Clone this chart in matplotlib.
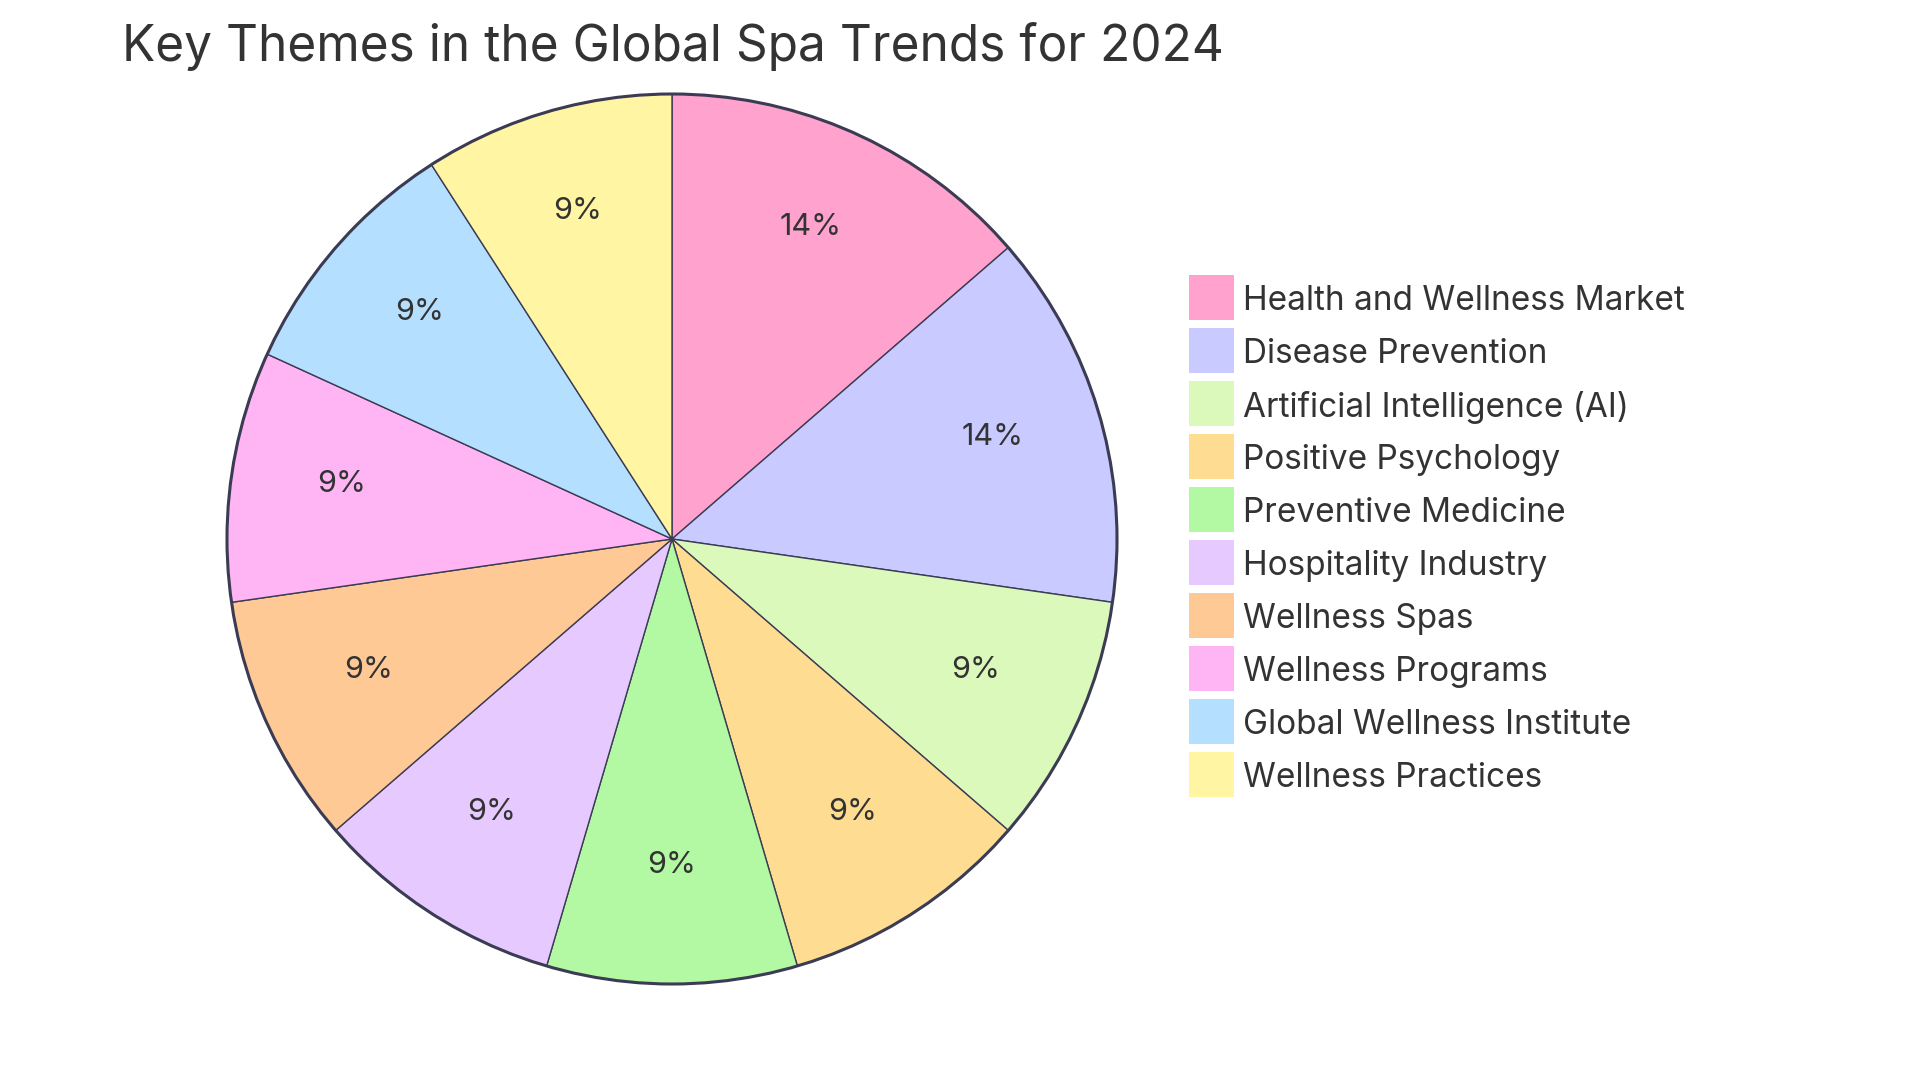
import matplotlib.pyplot as plt
from matplotlib.patches import Circle, Rectangle

plt.rcParams['font.family'] = ['Inter', 'DejaVu Sans']

labels = ['Health and Wellness Market', 'Disease Prevention', 'Artificial Intelligence (AI)',
          'Positive Psychology', 'Preventive Medicine', 'Hospitality Industry',
          'Wellness Spas', 'Wellness Programs', 'Global Wellness Institute',
          'Wellness Practices']
values = [15, 15, 10, 10, 10, 10, 10, 10, 10, 10]
colors = ['#FFA3CE', '#C9CAFF', '#DAF9BA', '#FEDD93', '#B3F8A2',
          '#E6CAFF', '#FFC996', '#FFB5F4', '#B5DFFF', '#FFF5A3']

edge = '#3b3b54'
txt = '#333333'

fig = plt.figure(figsize=(19.2, 10.8), dpi=100)
ax = fig.add_axes([0, 0, 1, 1])

cx, cy, r = 672, 1080 - 539, 445
wedges, texts, autotexts = ax.pie(
    values, colors=colors, startangle=90, counterclock=False,
    center=(cx, cy), radius=r, autopct='%1.0f%%', pctdistance=0.75,
    wedgeprops=dict(edgecolor=edge, linewidth=1.0),
    textprops=dict(color=txt, fontsize=22))
for t in autotexts:
    t.set_va('baseline')
ax.add_patch(Circle((cx, cy), r, fill=False, edgecolor=edge, linewidth=2.2, zorder=5))

# legend
for i, (lab, col) in enumerate(zip(labels, colors)):
    yc = 1080 - (297.5 + i * 53)
    ax.add_patch(Rectangle((1189, yc - 22.5), 45, 45, facecolor=col, edgecolor='none'))
    ax.text(1243, yc, lab, fontsize=24, color=txt, va='center_baseline', ha='left')

ax.text(122, 1080 - 61, 'Key Themes in the Global Spa Trends for 2024',
        fontsize=35.7, color=txt, va='baseline', ha='left')

ax.set_xlim(0, 1920)
ax.set_ylim(0, 1080)
ax.set_aspect('equal')
ax.axis('off')

fig.savefig('out.png', dpi=100, facecolor='white')
